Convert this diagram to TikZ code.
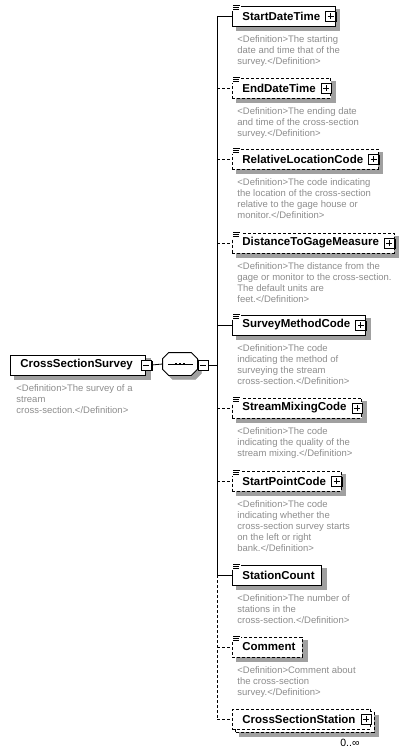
\documentclass[tikz,border=0pt]{standalone}
\usepackage{fontspec}
\setmainfont{Liberation Sans}
\usetikzlibrary{positioning,backgrounds}

\definecolor{defgray}{RGB}{140,140,140}
\definecolor{boxshadow}{RGB}{160,160,160}

\newcommand{\docicon}[1]{%
	\fill[white] ([shift={(-1,-2)}]#1.north west) rectangle ++(10,7);
	\draw[line width=0.7pt] ([shift={(1,0)}]#1.north west) -- ++(7,0)
		([shift={(1,2)}]#1.north west) -- ++(6,0)
		([shift={(1,4)}]#1.north west) -- ++(6,0);}
\newcommand{\seqoutline}[1]{([shift={(6+#1,#1)}]seq.north west) -- ([shift={(-6+#1,#1)}]seq.north east) -- ([shift={(#1,6+#1)}]seq.north east)
		-- ([shift={(#1,-6+#1)}]seq.south east) -- ([shift={(-6+#1,#1)}]seq.south east) -- ([shift={(6+#1,#1)}]seq.south west)
		-- ([shift={(#1,-6+#1)}]seq.south west) -- ([shift={(#1,6+#1)}]seq.north west) -- cycle}

\begin{document}
\begin{tikzpicture}[x=1pt,y=-1pt,line width=0.8pt,
		elem/.style={draw, fill=white, minimum height=20pt, inner xsep=0pt, inner ysep=0pt, anchor=west,
			font=\fontsize{11.5}{13}\selectfont\bfseries, execute at begin node=\hspace*{10pt}},
		opt/.style={dash pattern=on 3pt off 2pt},
		plus/.style={execute at end node=\hspace*{15pt}},
		noplus/.style={execute at end node=\hspace*{7pt}},
		defn/.style={font=\fontsize{9.5}{11}\selectfont, text=defgray, align=left, inner sep=0pt},
		shadowfill/.style={fill=boxshadow, draw=boxshadow, line width=0.4pt},
		plusbox/.style={draw, fill=white, line width=0.7pt, minimum size=10pt, inner sep=0pt,
			path picture={\draw[line width=0.7pt] ([xshift=-3pt]path picture bounding box.center) -- ([xshift=3pt]path picture bounding box.center)
				([yshift=-3pt]path picture bounding box.center) -- ([yshift=3pt]path picture bounding box.center);}},
		minusbox/.style={plusbox,
			path picture={\draw[line width=0.7pt] ([xshift=-3pt]path picture bounding box.center) -- ([xshift=3pt]path picture bounding box.center);}},
		seqbox/.style={minimum width=34pt, minimum height=22pt, inner sep=0pt}]
	\useasboundingbox (0,0) rectangle (404,754);

	\node[elem, execute at end node=\hspace*{13pt}] (root) at (10,365) {CrossSectionSurvey};
	\node[defn, below right=8.5pt and 6pt of root.south west] (rootdef) {<Definition>The survey of a\\stream\\cross-section.</Definition>};

	\node[seqbox] (seq) at (180,364) {};
	\coordinate (bus) at (217,365);

	\node[elem, plus] (start) at (232,16) {StartDateTime};
	\node[elem, opt, plus] (end) at (232,88) {EndDateTime};
	\node[elem, opt, plus] (relloc) at (232,159) {RelativeLocationCode};
	\node[elem, opt, plus] (gagedist) at (232,243) {DistanceToGageMeasure};
	\node[elem, plus] (method) at (232,325) {SurveyMethodCode};
	\node[elem, opt, plus] (mixing) at (232,408) {StreamMixingCode};
	\node[elem, opt, plus] (startpt) at (232,481) {StartPointCode};
	\node[elem, noplus] (count) at (232,575) {StationCount};
	\node[elem, opt, noplus] (comment) at (232,647) {Comment};
	\node[elem, opt, plus] (station) at (232,719) {CrossSectionStation};

	\begin{scope}[on background layer]
		\foreach \n in {root,start,end,relloc,gagedist,method,mixing,startpt,count,comment}
			\draw[shadowfill] ([shift={(4,4)}]\n.south west) rectangle ([shift={(4,4)}]\n.north east);
		\draw[shadowfill] \seqoutline{4};
		\draw[shadowfill] ([shift={(7,7)}]station.south west) rectangle ([shift={(7,7)}]station.north east);
		\draw[fill=white, opt] ([shift={(3,3)}]station.south west) rectangle ([shift={(3,3)}]station.north east);
	\end{scope}

	\draw[fill=white] \seqoutline{0};
	\draw ([xshift=-12pt]seq.center) -- ([xshift=13pt]seq.center);
	\foreach \d in {-4,0,4}
		\fill ([shift={(\d-1.3,-1.3)}]seq.center) rectangle ++(2.6,2.6);

	\node[defn, below right=8.5pt and 5pt of start.south west] (startdef) {<Definition>The starting\\date and time that of the\\survey.</Definition>};
	\node[defn, below right=8.5pt and 5pt of end.south west] (enddef) {<Definition>The ending date\\and time of the cross-section\\survey.</Definition>};
	\node[defn, below right=8.5pt and 5pt of relloc.south west] (rellocdef) {<Definition>The code indicating\\the location of the cross-section\\relative to the gage house or\\monitor.</Definition>};
	\node[defn, below right=8.5pt and 5pt of gagedist.south west] (gagedistdef) {<Definition>The distance from the\\gage or monitor to the cross-section.\\The default units are\\feet.</Definition>};
	\node[defn, below right=8.5pt and 5pt of method.south west] (methoddef) {<Definition>The code\\indicating the method of\\surveying the stream\\cross-section.</Definition>};
	\node[defn, below right=8.5pt and 5pt of mixing.south west] (mixingdef) {<Definition>The code\\indicating the quality of the\\stream mixing.</Definition>};
	\node[defn, below right=8.5pt and 5pt of startpt.south west] (startptdef) {<Definition>The code\\indicating whether the\\cross-section survey starts\\on the left or right\\bank.</Definition>};
	\node[defn, below right=8.5pt and 5pt of count.south west] (countdef) {<Definition>The number of\\stations in the\\cross-section.</Definition>};
	\node[defn, below right=8.5pt and 5pt of comment.south west] (commentdef) {<Definition>Comment about\\the cross-section\\survey.</Definition>};
	\node[below left=9pt and 11pt of station.south east, inner sep=0pt, font=\fontsize{10.5}{12}\selectfont] (stationocc) {0..∞};

	\node[minusbox] (rootminus) at (root.east) {};
	\node[minusbox] (seqminus) at (203,365) {};
	\foreach \n in {start,end,relloc,gagedist,method,mixing,startpt,station}
		\node[plusbox] (\n-plus) at ([xshift=-5pt]\n.east) {};
	\foreach \n in {rootminus,seqminus,start-plus,end-plus,relloc-plus,gagedist-plus,method-plus,mixing-plus,startpt-plus,station-plus}
		\draw[line width=1pt] ([shift={(1,0.5)}]\n.south west) -| ([shift={(0.5,1)}]\n.north east);
	\foreach \n in {start,end,relloc,gagedist,method,mixing,startpt,count,comment}
		{\docicon{\n}}

	\draw (rootminus.east) -- (seq.west);
	\draw (seqminus.east) -- (bus);
	\draw (start.west -| bus) -- (count.west -| bus);
	\draw[opt] (count.west -| bus) -- (station.west -| bus);
	\foreach \n in {start,method,count}
		\draw (\n.west -| bus) -- (\n.west);
	\foreach \n in {end,relloc,gagedist,mixing,startpt,comment,station}
		\draw[opt] (\n.west -| bus) -- (\n.west);
\end{tikzpicture}
\end{document}
